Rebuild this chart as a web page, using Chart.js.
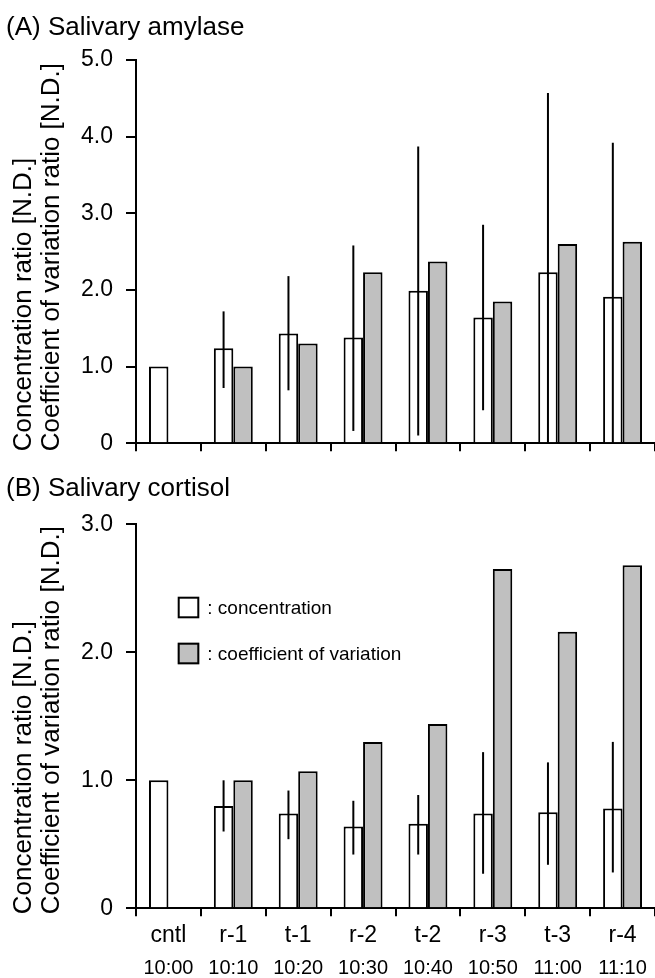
<!DOCTYPE html>
<html>
<head>
<meta charset="utf-8">
<script src="https://cdn.jsdelivr.net/npm/chart.js@4.4.1/dist/chart.umd.min.js"></script>
<style>
    body { margin: 0; background: #fff; }
    canvas { display: block; }
</style>
</head>
<body>
<canvas id="amylaseChart" width="655" height="470"></canvas>
<canvas id="cortisolChart" width="655" height="508"></canvas>
<script>
// ============================================
// DATA
// ============================================
const categories = ['cntl', 'r-1', 't-1', 'r-2', 't-2', 'r-3', 't-3', 'r-4'];
const times = ['10:00', '10:10', '10:20', '10:30', '10:40', '10:50', '11:00', '11:10'];

// (A) salivary amylase
const amylaseConc = [1.00, 1.24, 1.43, 1.38, 1.99, 1.64, 2.23, 1.91];
const amylaseConcHigh = [null, 1.72, 2.18, 2.58, 3.87, 2.85, 4.57, 3.92];
const amylaseConcLow = [null, 0.72, 0.69, 0.16, 0.10, 0.43, 0, 0];
const amylaseCv = [null, 1.00, 1.30, 2.23, 2.37, 1.85, 2.60, 2.63];
const amylaseTicks = [0, 1, 2, 3, 4, 5];

// (B) salivary cortisol
const cortisolConc = [1.00, 0.80, 0.74, 0.64, 0.66, 0.74, 0.75, 0.78];
const cortisolConcHigh = [null, 1.00, 0.92, 0.84, 0.885, 1.22, 1.14, 1.30];
const cortisolConcLow = [null, 0.60, 0.54, 0.42, 0.42, 0.27, 0.34, 0.28];
const cortisolCv = [null, 1.00, 1.07, 1.30, 1.44, 2.65, 2.16, 2.68];
const cortisolTicks = [0, 1, 2, 3];

const yTitleLines = ['Concentration ratio [N.D.]', 'Coefficient of variation ratio [N.D.]'];
const legendLabels = [': concentration', ': coefficient of variation'];

const GRAY = '#c0c0c0';
const FONT = "'Liberation Sans', Arial, sans-serif";

Chart.defaults.font.family = FONT;
Chart.defaults.color = '#000';

// ============================================
// PLUGINS
// ============================================

// vertical error lines on the concentration bars
const errorBarPlugin = {
    id: 'errorBars',
    afterDatasetsDraw(chart, args, opts) {
        const meta = chart.getDatasetMeta(0);
        const yScale = chart.scales.y;
        const ctx = chart.ctx;
        ctx.save();
        ctx.strokeStyle = '#000';
        ctx.lineWidth = 2;
        opts.high.forEach((hi, i) => {
            if (hi === null) return;
            const x = meta.data[i].x;
            ctx.beginPath();
            ctx.moveTo(x, yScale.getPixelForValue(hi));
            ctx.lineTo(x, yScale.getPixelForValue(opts.low[i]));
            ctx.stroke();
        });
        ctx.restore();
    }
};

// two line rotated y title, starting at the bottom
const yTitlePlugin = {
    id: 'yTitle',
    afterDraw(chart, args, opts) {
        const ctx = chart.ctx;
        ctx.save();
        ctx.fillStyle = '#000';
        ctx.font = `26px ${FONT}`;
        ctx.textAlign = 'left';
        ctx.textBaseline = 'middle';
        yTitleLines.forEach((line, i) => {
            ctx.save();
            ctx.translate(opts.xs[i], chart.chartArea.bottom + opts.offset);
            ctx.rotate(-Math.PI / 2);
            ctx.fillText(line, 0, 0);
            ctx.restore();
        });
        ctx.restore();
    }
};

// small legend inside the cortisol plot
const boxLegendPlugin = {
    id: 'boxLegend',
    afterDraw(chart, args, opts) {
        if (!opts.show) return;
        const ctx = chart.ctx;
        const fills = ['#fff', GRAY];
        ctx.save();
        ctx.font = `19px ${FONT}`;
        ctx.textAlign = 'left';
        ctx.textBaseline = 'middle';
        legendLabels.forEach((label, i) => {
            const top = opts.y + i * opts.gap;
            ctx.fillStyle = fills[i];
            ctx.fillRect(opts.x, top, opts.size, opts.size);
            ctx.strokeStyle = '#000';
            ctx.lineWidth = 2;
            ctx.strokeRect(opts.x + 1, top + 1, opts.size - 2, opts.size - 2);
            ctx.fillStyle = '#000';
            ctx.fillText(label, opts.x + opts.size + 8, top + opts.size / 2 + 1);
        });
        ctx.restore();
    }
};

// ============================================
// CHART BUILDER
// ============================================
function tickLabel(v) {
    return v === 0 ? '0' : v.toFixed(1);
}

function buildChart(id, cfg) {
    const scales = {
        x: {
            type: 'category',
            labels: categories,
            offset: true,
            grid: { offset: true, drawOnChartArea: false, drawTicks: true, tickLength: 8, color: '#000', lineWidth: 2 },
            border: { display: true, color: '#000', width: 2 },
            ticks: { display: cfg.showLabels, font: { size: 23 }, padding: 6, maxRotation: 0, autoSkip: false },
            afterFit: s => { s.height = cfg.xHeight; }
        },
        y: {
            min: 0,
            max: cfg.ticks[cfg.ticks.length - 1],
            afterBuildTicks: s => { s.ticks = cfg.ticks.map(v => ({ value: v })); },
            grid: { drawOnChartArea: false, drawTicks: true, tickLength: 10, color: '#000', lineWidth: 2 },
            border: { display: true, color: '#000', width: 2 },
            ticks: { font: { size: 23 }, padding: 13, callback: tickLabel },
            afterFit: s => { s.width = 130; }
        }
    };
    if (cfg.showLabels) {
        scales.x2 = {
            type: 'category',
            labels: times,
            position: 'bottom',
            offset: true,
            grid: { display: false, drawTicks: false, tickLength: 0 },
            border: { display: false },
            ticks: { font: { size: 20 }, padding: 2, maxRotation: 0, autoSkip: false },
            afterFit: s => { s.height = cfg.x2Height; }
        };
    }

    return new Chart(document.getElementById(id), {
        type: 'bar',
        data: {
            labels: categories,
            datasets: [
                { label: 'concentration', data: cfg.conc, backgroundColor: '#fff', borderColor: '#000', borderWidth: 2 },
                { label: 'coefficient of variation', data: cfg.cv, backgroundColor: GRAY, borderColor: '#000', borderWidth: 2 }
            ]
        },
        options: {
            responsive: false,
            animation: false,
            devicePixelRatio: 1,
            categoryPercentage: 0.6,
            barPercentage: 1.0,
            layout: { padding: { left: 6, right: 0, top: 0, bottom: 0 } },
            scales: scales,
            plugins: {
                legend: { display: false },
                tooltip: { enabled: false },
                title: {
                    display: true,
                    text: cfg.title,
                    align: 'start',
                    font: { size: 26, weight: 'normal' },
                    padding: cfg.titlePadding
                },
                errorBars: { high: cfg.high, low: cfg.low },
                yTitle: { xs: [24, 52], offset: cfg.yTitleOffset },
                boxLegend: cfg.legend
            }
        },
        plugins: [errorBarPlugin, yTitlePlugin, boxLegendPlugin]
    });
}

buildChart('amylaseChart', {
    title: '(A) Salivary amylase',
    titlePadding: { top: 12.4, bottom: 16.4 },
    conc: amylaseConc, cv: amylaseCv,
    high: amylaseConcHigh, low: amylaseConcLow,
    ticks: amylaseTicks,
    showLabels: false,
    xHeight: 26,
    yTitleOffset: 8,
    legend: { show: false }
});

buildChart('cortisolChart', {
    title: '(B) Salivary cortisol',
    titlePadding: { top: 3.4, bottom: 19.7 },
    conc: cortisolConc, cv: cortisolCv,
    high: cortisolConcHigh, low: cortisolConcLow,
    ticks: cortisolTicks,
    showLabels: true,
    xHeight: 46,
    x2Height: 23.7,
    yTitleOffset: 6,
    legend: { show: true, x: 177.7, y: 126.7, size: 21.6, gap: 46 }
});
</script>
</body>
</html>
